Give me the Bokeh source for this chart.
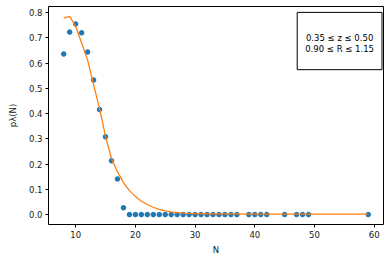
from bokeh.plotting import figure
from bokeh.models import BoxAnnotation, Label, Range1d, FixedTicker, PrintfTickFormatter
from bokeh.embed import file_html
from bokeh.resources import INLINE

# Data
N_obs = [8, 9, 10, 11, 12, 13, 14, 15, 16, 17, 18,
         19, 20, 21, 22, 23, 24, 25, 26, 27, 28, 29, 30, 31, 32, 33, 34, 35, 36, 37,
         39, 40, 41, 42, 45, 47, 48, 49, 59]
p_obs = [0.636, 0.723, 0.755, 0.720, 0.644, 0.533, 0.416, 0.308, 0.213, 0.141, 0.027,
         0, 0, 0, 0, 0, 0, 0, 0, 0, 0, 0, 0, 0, 0, 0, 0, 0, 0, 0,
         0, 0, 0, 0, 0, 0, 0, 0, 0]
p_model = [0.778, 0.785, 0.745, 0.680, 0.612, 0.515, 0.420, 0.310, 0.222, 0.170, 0.127,
           0.095, 0.072, 0.053, 0.040, 0.029, 0.021, 0.015, 0.011, 0.008, 0.006, 0.005,
           0.004, 0.004, 0.003, 0.003, 0.003, 0.003, 0.003, 0.003,
           0.002, 0.002, 0.002, 0.002, 0.002, 0.002, 0.002, 0.002, 0.002]
x_ticks = [10, 20, 30, 40, 50, 60]
y_ticks = [0.0, 0.1, 0.2, 0.3, 0.4, 0.5, 0.6, 0.7, 0.8]
box_lines = ["0.35 \u2264 z \u2264 0.50", "0.90 \u2264 R \u2264 1.15"]

FONT = "DejaVu Sans"
FS = "8.5px"

p = figure(frame_width=335, frame_height=218, output_backend="svg", toolbar_location=None,
           x_range=Range1d(5.45, 61.55), y_range=Range1d(-0.0393, 0.8243),
           min_border_left=48, min_border_right=7, min_border_top=6, min_border_bottom=38)
p.background_fill_color = "white"
p.border_fill_color = "white"
p.outline_line_color = "black"
p.outline_line_alpha = 1
p.outline_line_width = 1
p.xgrid.visible = False
p.ygrid.visible = False

for ax in (p.xaxis[0], p.yaxis[0]):
    ax.axis_line_color = None
    ax.major_tick_in = 0
    ax.major_tick_out = 3
    ax.minor_tick_line_color = None
    ax.major_tick_line_color = "black"
    ax.major_label_text_font = FONT
    ax.major_label_text_font_size = FS
    ax.major_label_text_color = "#1a1a1a"
    ax.axis_label_text_font = FONT
    ax.axis_label_text_font_size = FS
    ax.axis_label_text_font_style = "normal"
    ax.axis_label_text_color = "#1a1a1a"
    ax.major_label_standoff = 3

p.xaxis.ticker = FixedTicker(ticks=x_ticks)
p.yaxis.ticker = FixedTicker(ticks=y_ticks)
p.xaxis.formatter = PrintfTickFormatter(format="%d")
p.yaxis.formatter = PrintfTickFormatter(format="%.1f")
p.xaxis.axis_label = "N"
p.yaxis.axis_label = "p\u03bb(N)"
p.xaxis.axis_label_standoff = 4
p.yaxis.axis_label_standoff = 8

p.scatter(N_obs, p_obs, size=4.6, color="#1f77b4", line_color="#1f77b4")
p.line(N_obs, p_model, line_color="#ff7f0e", line_width=1.3)

box = BoxAnnotation(left=47.1, right=61.3, top=0.801, bottom=0.574,
                    fill_color="white", fill_alpha=1, line_color="black",
                    line_alpha=1, line_width=1)
p.add_layout(box)
for txt, yy in zip(box_lines, [0.701, 0.655]):
    p.add_layout(Label(x=54.2, y=yy, text=txt, text_align="center",
                       text_baseline="middle", text_font=FONT,
                       text_font_size=FS, text_color="black"))

open("out.html", "w").write(file_html(p, INLINE))
